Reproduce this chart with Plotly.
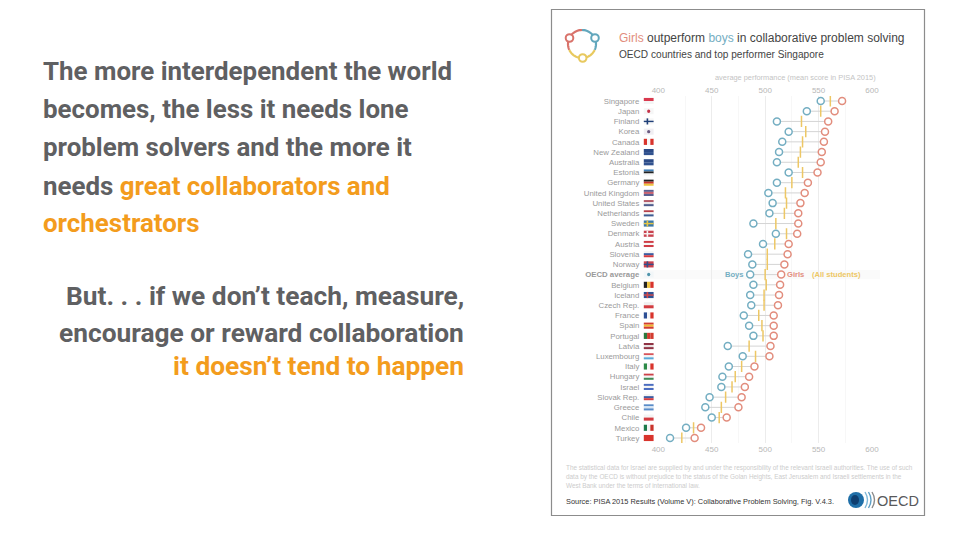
import math
import plotly.graph_objects as go

countries = ["Singapore","Japan","Finland","Korea","Canada","New Zealand","Australia","Estonia","Germany",
             "United Kingdom","United States","Netherlands","Sweden","Denmark","Austria","Slovenia","Norway",
             "OECD average","Belgium","Iceland","Czech Rep.","France","Spain","Portugal","Latvia","Luxembourg",
             "Italy","Hungary","Israel","Slovak Rep.","Greece","Chile","Mexico","Turkey"]
boys = [552,539,511,522,516,513,511,522,511,503,507,504,489,510,498,484,488,486,489,486,487,480,485,489,465,479,466,460,459,448,444,450,426,411]
average = [561,552,534,538,535,533,531,535,525,519,520,518,510,520,509,502,502,500,501,499,499,494,497,498,485,491,478,472,469,463,459,457,433,422]
girls = [572,565,559,556,555,553,552,549,540,537,533,531,531,530,522,521,518,515,514,513,512,508,508,508,505,504,490,485,481,478,475,464,440,434]
x_ticks = [400,450,500,550,600]

flags = [
 ("h",["#d9394e","#f4f4f4"]),("c",["#f6f6f6","#c5344a"]),("x",["#f6f6f6","#1f3f78"]),("c",["#f0eef2","#6a5a80"]),
 ("v",["#d8342c","#f6f6f6","#d8342c"]),("h",["#2b4a86","#31528f"]),("h",["#2b4a86","#31528f"]),("h",["#3f7fb8","#222222","#f4f4f4"]),
 ("h",["#222222","#c8352c","#eec33f"]),("h",["#5a5f8f","#c9606f","#5a5f8f"]),("h",["#b35a68","#e8e4e8","#4d5c8c"]),("h",["#b5404a","#f4f4f4","#3d5c92"]),
 ("x",["#3b78a8","#e6c545"]),("x",["#c9424e","#f6f6f6"]),("h",["#cf3d46","#f6f6f6","#cf3d46"]),("h",["#f4f4f4","#3d5ca0","#d33b40"]),
 ("x",["#c9424e","#33508c"]),("c",["#f2f6f8","#4f94ab"]),("v",["#222222","#eec33f","#d8342c"]),("x",["#2f5394","#d84a4a"]),
 ("h",["#f0f0f0","#d23c40"]),("v",["#2d4f94","#f6f6f6","#d8342c"]),("h",["#d23c30","#f0bc30","#d23c30"]),("v",["#2c7a3e","#d23c30","#d23c30"]),
 ("h",["#8f3344","#e8e0e0","#8f3344"]),("h",["#d8545a","#f4f4f4","#5aa8d8"]),("v",["#2c8a48","#f6f6f6","#d8342c"]),("h",["#cc4048","#f4f4f4","#3f8a56"]),
 ("h",["#4a6cc0","#f4f4f4","#4a6cc0"]),("h",["#f4f4f4","#3d5ca0","#d33b40"]),("h",["#5a8cc8","#d8e6f4","#5a8cc8"]),("h",["#f4f4f4","#d33b40"]),
 ("v",["#1d7a4a","#f4f4f4","#c9342c"]),("h",["#d8342c","#d8342c"]),
]

BLUE, RED, YELLOW = "#74aec2", "#e28d7d", "#edc765"
GREY, ORANGE = "#5f6062", "#f39c1d"
W, H = 960, 540
TOP, ROW = 101.0, (438 - 101) / 33

fig = go.Figure()
y_idx = list(range(len(countries)))

# connector lines are drawn on the bottom axis, which overlays the top one
for b, g, y in zip(boys, girls, y_idx):
    fig.add_trace(go.Scatter(x=[b, g], y=[y, y], xaxis="x3", yaxis="y", mode="lines",
                             line=dict(color="#d4d4d4", width=1), showlegend=False, hoverinfo="skip"))
fig.add_trace(go.Scatter(x=average, y=y_idx, xaxis="x3", mode="markers", name="All students",
                         marker=dict(symbol="line-ns", size=8, line=dict(color=YELLOW, width=1.5)), showlegend=False))
fig.add_trace(go.Scatter(x=boys, y=y_idx, xaxis="x3", mode="markers", name="Boys",
                         marker=dict(size=7, color="white", line=dict(color=BLUE, width=1.5)), showlegend=False))
fig.add_trace(go.Scatter(x=girls, y=y_idx, xaxis="x3", mode="markers", name="Girls",
                         marker=dict(size=7, color="white", line=dict(color=RED, width=1.5)), showlegend=False))
# keeps the top axis in use
fig.add_trace(go.Scatter(x=[400, 600], y=[0, 0], mode="markers", marker=dict(opacity=0), showlegend=False, hoverinfo="skip"))

px = dict(xref="x2", yref="y2")
shapes = [dict(type="rect", x0=551.5, y0=9.5, x1=924.5, y1=515.5, line=dict(color="#8c8c8c", width=1.2),
               fillcolor="rgba(0,0,0,0)", layer="below", **px)]

# OECD average row
oecd = countries.index("OECD average")
shapes.append(dict(type="rect", x0=640, x1=880, y0=oecd - .45, y1=oecd + .45, xref="x2", yref="y",
                   fillcolor="#fafafa", line=dict(width=0), layer="below"))

# flags
FX0, FX1 = 643.8, 653.6
FH = 0.3
for i, (kind, cols) in enumerate(flags):
    base = dict(xref="x2", yref="y", line=dict(width=0), layer="above")
    if kind == "h":
        n = len(cols)
        for k, c in enumerate(cols):
            shapes.append(dict(type="rect", x0=FX0, x1=FX1, y0=i - FH + 2 * FH * k / n, y1=i - FH + 2 * FH * (k + 1) / n, fillcolor=c, **base))
    elif kind == "v":
        n = len(cols)
        d = (FX1 - FX0) / n
        for k, c in enumerate(cols):
            shapes.append(dict(type="rect", x0=FX0 + k * d, x1=FX0 + (k + 1) * d, y0=i - FH, y1=i + FH, fillcolor=c, **base))
    elif kind == "x":
        shapes.append(dict(type="rect", x0=FX0, x1=FX1, y0=i - FH, y1=i + FH, fillcolor=cols[0], **base))
        shapes.append(dict(type="rect", x0=FX0, x1=FX1, y0=i - .07, y1=i + .07, fillcolor=cols[1], **base))
        shapes.append(dict(type="rect", x0=FX0 + 2.8, x1=FX0 + 4.4, y0=i - FH, y1=i + FH, fillcolor=cols[1], **base))
    elif kind == "c":
        shapes.append(dict(type="rect", x0=FX0, x1=FX1, y0=i - FH, y1=i + FH, fillcolor=cols[0], **base))
        shapes.append(dict(type="circle", x0=FX0 + 3.3, x1=FX0 + 6.5, y0=i - .17, y1=i + .17, fillcolor=cols[1], **base))


def arc(cx, cy, r, a0, a1, n=24):
    pts = []
    for k in range(n + 1):
        a = math.radians(a0 + (a1 - a0) * k / n)
        pts.append((cx + r * math.cos(a), cy + r * math.sin(a)))
    return "M" + " L".join(f"{x:.2f},{y:.2f}" for x, y in pts)


# logo
LCX, LCY, LR = 582.0, 44.0, 14.0
for a0, a1, c in [(155, 270, "#d9736b"), (270, 385, "#62a7bd"), (25, 155, "#e8c95f")]:
    shapes.append(dict(type="path", path=arc(LCX, LCY, LR, a0, a1), line=dict(color=c, width=2.2), **px))
for cx, cy, c in [(569.5, 38, "#d9736b"), (595, 38, "#62a7bd"), (582.7, 58, "#e8c95f")]:
    shapes.append(dict(type="circle", x0=cx - 3.8, x1=cx + 3.8, y0=cy - 3.8, y1=cy + 3.8, fillcolor="white",
                       line=dict(color=c, width=2), **px))

# OECD logo
shapes.append(dict(type="circle", x0=848, x1=864, y0=492, y1=508, fillcolor="#1f6fa8", line=dict(width=0), **px))
shapes.append(dict(type="circle", x0=851, x1=859, y0=495, y1=505, fillcolor="#0f3f70", line=dict(width=0), **px))
for dx, c in [(0, "#7fb8d8"), (3.5, "#5f9fc5"), (7, "#8a8a8a")]:
    shapes.append(dict(type="path", path=f"M{865 + dx},492 Q{870 + dx},500 {865 + dx},508",
                       line=dict(color=c, width=1.4), **px))


def label(x, y, text, size, color, anchor="left", family="Liberation Sans", weight=None, xref="x2", yref="y2"):
    font = dict(family=family, size=size, color=color)
    if weight:
        font["weight"] = weight
    return dict(x=x, y=y, xref=xref, yref=yref, text=text, showarrow=False, xanchor=anchor, yanchor="middle",
                font=font, align=anchor)


HEAD = dict(size=25.9, family="Roboto", weight=700)
HEAD2 = dict(size=26.3, family="Roboto", weight=700)
org = f'<span style="color:{ORANGE}">'
anns = [
    label(41, 71, "The more interdependent the world", color=GREY, **HEAD),
    label(41, 109, "becomes, the less it needs lone", color=GREY, **HEAD),
    label(41, 147, "problem solvers and the more it", color=GREY, **HEAD),
    label(41, 186, f"needs {org}great collaborators and</span>", color=GREY, **HEAD),
    label(41, 223, "orchestrators", color=ORANGE, **HEAD),
    label(466, 296, "But. . . if we don’t teach, measure,", color=GREY, anchor="right", **HEAD2),
    label(466, 333, "encourage or reward collaboration", color=GREY, anchor="right", **HEAD2),
    label(466, 366, "it doesn’t tend to happen", color=ORANGE, anchor="right", **HEAD2),
    label(617, 38, f'<span style="color:{RED}">Girls</span> outperform <span style="color:{BLUE}">boys</span> in collaborative problem solving', 12.0, "#444444"),
    label(617, 54, "OECD countries and top performer Singapore", 10.1, "#444444"),
    label(878, 77, "average performance (mean score in PISA 2015)", 7.4, "#c4c4c4", anchor="right"),
    label(564, 468, "The statistical data for Israel are supplied by and under the responsibility of the relevant Israeli authorities. The use of such", 6.4, "#cccccc"),
    label(564, 476.5, "data by the OECD is without prejudice to the status of the Golan Heights, East Jerusalem and Israeli settlements in the", 6.4, "#cccccc"),
    label(564, 485, "West Bank under the terms of international law.", 6.4, "#cccccc"),
    label(564, 501, "Source: PISA 2015 Results (Volume V): Collaborative Problem Solving, Fig. V.4.3.", 7.4, "#333333"),
    label(875, 501, "OECD", 14.5, "#58595b"),
    label(boys[oecd] - 4, oecd, "<b>Boys</b>", 7.6, BLUE, anchor="right", xref="x", yref="y"),
    label(girls[oecd] + 4, oecd, "<b>Girls</b>", 7.6, RED, xref="x", yref="y"),
    label(girls[oecd] + 27, oecd, "<b>(All students)</b>", 7.6, YELLOW, xref="x", yref="y"),
]

x_common = dict(range=[400, 600], domain=[658.3 / W, 872 / W], tickvals=x_ticks, ticks="", showline=False, zeroline=False,
                automargin=False, tickfont=dict(family="Liberation Sans", size=8, color="#b8b8b8"))
y_top, y_bot = TOP - 0.5 * ROW, TOP + 33.5 * ROW
fig.update_layout(
    width=W, height=H, margin=dict(l=0, r=0, t=0, b=0), paper_bgcolor="white", plot_bgcolor="rgba(0,0,0,0)",
    showlegend=False, shapes=shapes, annotations=anns,
    xaxis=dict(side="top", anchor="y", showgrid=True, gridcolor="#ececec", gridwidth=1,
               minor=dict(dtick=25, showgrid=True, gridcolor="#f7f7f7", gridwidth=1), **x_common),
    xaxis3=dict(side="bottom", overlaying="x", anchor="y", showgrid=False, **x_common),
    yaxis=dict(range=[33.5, -0.5], domain=[1 - y_bot / H, 1 - y_top / H], tickvals=y_idx, automargin=False,
               ticktext=[f"<b>{c}</b>" if c == "OECD average" else c for c in countries],
               showgrid=False, zeroline=False, showline=False, ticks="", ticklabelstandoff=18,
               tickfont=dict(family="Liberation Sans", size=7.8, color="#9a9a9a")),
    xaxis2=dict(range=[0, W], domain=[0, 1], anchor="y2", visible=False, automargin=False),
    yaxis2=dict(range=[H, 0], domain=[0, 1], anchor="x2", visible=False, automargin=False),
)
fig.write_html("out.html", post_script="document.body.style.margin='0';", config={"displayModeBar": False})
